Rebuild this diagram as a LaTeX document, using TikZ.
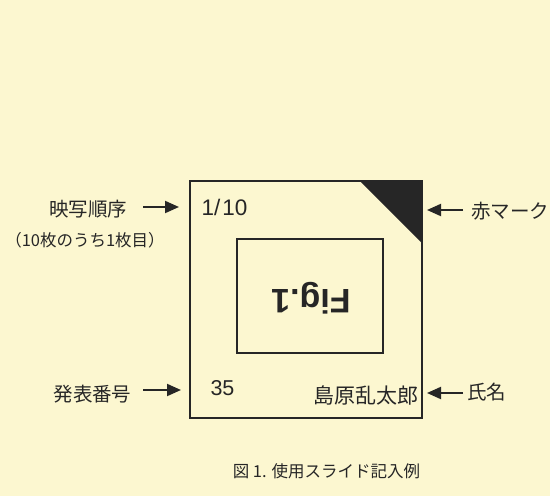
\documentclass[tikz,border=0pt]{standalone}
\usepackage{fontspec}
\setmainfont{Liberation Sans}
\newfontfamily\jp{Noto Sans CJK JP}
\usetikzlibrary{arrows.meta}
\definecolor{paper}{RGB}{252,247,208}
\definecolor{ink}{RGB}{38,38,38}
\begin{document}
\begin{tikzpicture}[x=1pt,y=-1pt,
  txt/.style={inner sep=0pt, text=ink},
  jlab/.style={txt, font=\jp\fontsize{19.5}{19.5}\selectfont},
  arr/.style={draw=ink, line width=2pt, -{Triangle[length=14pt,width=12pt]}},
  frm/.style={draw=ink, line width=1.8pt, inner sep=0pt}]
\fill[paper] (0,0) rectangle (550,496);
\useasboundingbox (0,0) rectangle (550,496);
% slide
\node[frm, minimum width=232pt, minimum height=237pt] (slide) at (306,299.5) {};
\fill[ink] (slide.north east) ++(-64pt,0) -- (slide.north east) -- ++(0,-64pt) -- cycle;
\node[frm, minimum width=146pt, minimum height=114pt] (inner) at (310,296) {};
\node[txt, rotate=180, font=\bfseries\fontsize{34}{34}\selectfont] (fig) at (311,298) {Fig.1};
\node[txt, font=\fontsize{22.5}{22.5}\selectfont] (order) at (224.5,207) {1/\hspace{2pt}10};
\node[txt, font=\fontsize{21.5}{21.5}\selectfont] (num) at (222.5,388) {35};
\node[txt, font=\jp\fontsize{21}{21}\selectfont] (name) at (365.5,396) {島原乱太郎};
% left labels
\node[jlab] (l1) at (88,209) {映写順序};
\node[txt, font=\jp\fontsize{16.5}{16.5}\selectfont] (l1b) at (85,240) {（10枚のうち1枚目）};
\node[jlab] (l2) at (92.5,394) {発表番号};
\coordinate (t1) at (179,207);
\coordinate (t2) at (181,390);
\draw[arr] (143,207) coordinate (s1) -- (t1);
\draw[arr] (143,390) coordinate (s2) -- (t2);
% right labels
\node[jlab, anchor=west] (r1) at (471,211) {赤マーク};
\node[jlab, anchor=west] (r2) at (467,392) {氏名};
\coordinate (u1) at (427,210);
\coordinate (u2) at (427,393);
\draw[arr] (463,210) -- (u1);
\draw[arr] (463,393) -- (u2);
% caption
\node[txt, font=\jp\fontsize{16.5}{16.5}\selectfont] (cap) at (326.5,471) {図 1. 使用スライド記入例};
\end{tikzpicture}
\end{document}
